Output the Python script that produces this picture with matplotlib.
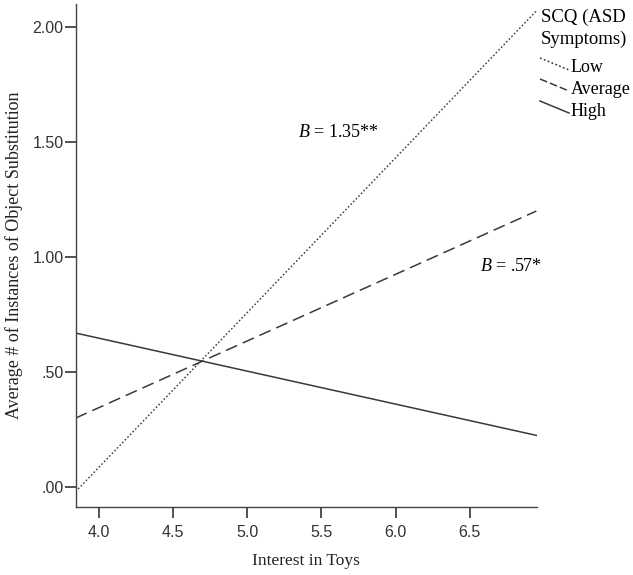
import matplotlib.pyplot as plt
from matplotlib.lines import Line2D

# endpoints of the simple slopes (x = interest in toys)
x_vals = [3.84, 6.95]
low_vals = [-0.02, 2.07]
avg_vals = [0.30, 1.20]
high_vals = [0.67, 0.225]

x_ticks = [4.0, 4.5, 5.0, 5.5, 6.0, 6.5]
x_tick_labels = ['4.0', '4.5', '5.0', '5.5', '6.0', '6.5']
y_ticks = [0.0, 0.5, 1.0, 1.5, 2.0]
y_tick_labels = ['.00', '.50', '1.00', '1.50', '2.00']

plt.rcParams['mathtext.fontset'] = 'custom'
plt.rcParams['mathtext.it'] = 'Liberation Serif:italic'
plt.rcParams['mathtext.rm'] = 'Liberation Serif'

line_col = '#3a3a3a'
serif = ['Liberation Serif', 'DejaVu Serif']
sans = ['Liberation Sans', 'DejaVu Sans']

fig = plt.figure(figsize=(6.33, 5.75), dpi=100)
ax = fig.add_axes([0.120, 0.118, 0.728, 0.875])

ax.plot(x_vals, low_vals, color=line_col, lw=1.0, linestyle=(0, (1.2, 1.5)))
ax.plot(x_vals, avg_vals, color=line_col, lw=1.1, linestyle=(0, (8, 4)))
ax.plot(x_vals, high_vals, color=line_col, lw=1.1, linestyle='-')

ax.set_xlim(3.843, 6.953)
ax.set_ylim(-0.087, 2.10)
ax.set_xticks(x_ticks)
ax.set_xticklabels(x_tick_labels, family=sans, fontsize=11.5, color='#333333')
ax.set_yticks(y_ticks)
ax.set_yticklabels(y_tick_labels, family=sans, fontsize=11.5, color='#333333')
ax.tick_params(direction='out', length=8, width=1.3, color='#444444')
ax.tick_params(axis='x', pad=5)
ax.tick_params(axis='y', pad=1)

for side in ['top', 'right']:
    ax.spines[side].set_visible(False)
for side in ['left', 'bottom']:
    ax.spines[side].set_color('#444444')
    ax.spines[side].set_linewidth(1.0)

ax.set_xlabel('Interest in Toys', family=serif, fontsize=12.5, labelpad=9,
              color='#222222')
ax.set_ylabel('Average # of Instances of Object Substitution', family=serif,
              fontsize=13, labelpad=7, color='#222222')

ax.text(5.34, 1.54, r'$B$ = 1.35**', family=serif, fontsize=13,
        va='center', ha='left')
ax.text(6.57, 0.957, r'$B$ = .57*', family=serif, fontsize=13,
        va='center', ha='left')

# legend drawn by hand to the right of the plot
W, H = 633.0, 575.0
fig.text(541 / W, 1 - 17 / H, 'SCQ (ASD', family=serif, fontsize=13.5, va='center', ha='left')
fig.text(541 / W, 1 - 39 / H, 'Symptoms)', family=serif, fontsize=13.5, va='center', ha='left')
legend_items = [('Low', (0, (1.2, 1.5)), 62), ('Average', (0, (5, 2)), 83), ('High', '-', 105)]
for label, ls, ypix in legend_items:
    fig.add_artist(Line2D([540 / W, 569 / W], [1 - (ypix - 4) / H, 1 - (ypix + 8) / H],
                          transform=fig.transFigure, color=line_col, lw=1.1, linestyle=ls))
    fig.text(571 / W, 1 - (ypix + 6) / H, label, family=serif, fontsize=13,
             va='center', ha='left')

plt.savefig('out.png', dpi=100)
